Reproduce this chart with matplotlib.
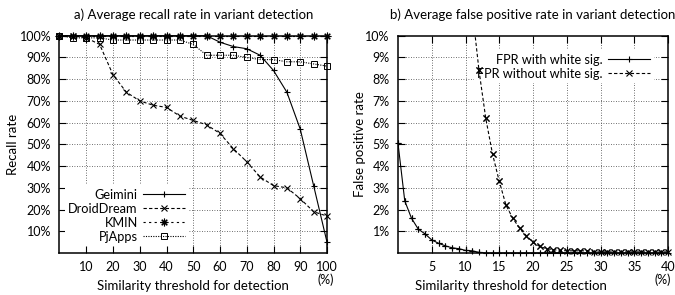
import matplotlib
matplotlib.use("Agg")
import matplotlib.pyplot as plt

##############
###  Data  ###
##############

# a) recall rate (%) per similarity threshold (%)
threshold_a = [0, 5, 10, 15, 20, 25, 30, 35, 40, 45, 50,
               55, 60, 65, 70, 75, 80, 85, 90, 95, 100]
geimini = [100, 100, 100, 100, 100, 100, 100, 100, 100, 100, 100,
           100, 97, 95, 94, 91, 84, 74, 57, 31, 5]
droiddream = [100, 100, 99, 96, 82, 74, 70, 68, 67, 63, 61,
              59, 55, 48, 42, 35, 31, 30, 25, 19, 17]
kmin = [100, 100, 100, 100, 100, 100, 100, 100, 100, 100, 100,
        100, 100, 100, 100, 100, 100, 100, 100, 100, 100]
pjapps = [100, 99, 99, 99, 98, 98, 98, 98, 98, 98, 96,
          91, 91, 91, 90, 89, 89, 88, 88, 87, 86]

# b) false positive rate (%) per similarity threshold (%)
threshold_b = [0, 1, 2, 3, 4, 5, 6, 7, 8, 9, 10, 11, 12, 13, 14, 15, 16, 17, 18, 19, 20,
               21, 22, 23, 24, 25, 26, 27, 28, 29, 30, 31, 32, 33, 34, 35, 36, 37, 38, 39, 40]
fpr_white = [5.05, 2.4, 1.6, 1.1, 0.88, 0.6, 0.45, 0.33, 0.24, 0.2, 0.12, 0.1, 0.03, 0, 0, 0, 0, 0, 0, 0, 0,
             0, 0, 0, 0, 0, 0, 0, 0, 0, 0, 0, 0, 0, 0, 0, 0, 0, 0, 0, 0]
threshold_b2 = [11, 12, 13, 14, 15, 16, 17, 18, 19, 20, 21, 22, 23, 24, 25,
                26, 27, 28, 29, 30, 31, 32, 33, 34, 35, 36, 37, 38, 39, 40]
fpr_nowhite = [11.2, 8.4, 6.2, 4.56, 3.3, 2.2, 1.6, 1.15, 0.8, 0.5, 0.3, 0.2, 0.15, 0.12, 0.1,
               0.1, 0.1, 0.1, 0.05, 0.05, 0.05, 0.05, 0.05, 0.05, 0.05, 0.05, 0.05, 0.05, 0.05, 0.05]

xticks_a = [10, 20, 30, 40, 50, 60, 70, 80, 90, 100]
yticks_a = [10, 20, 30, 40, 50, 60, 70, 80, 90, 100]
xticks_b = [5, 10, 15, 20, 25, 30, 35, 40]
yticks_b = [1, 2, 3, 4, 5, 6, 7, 8, 9, 10]

###############
###  Style  ###
###############

plt.rcParams["font.family"] = ["Lato", "DejaVu Sans"]
plt.rcParams["font.size"] = 9
plt.rcParams["axes.linewidth"] = 1.1
plt.rcParams["lines.linewidth"] = 0.8

GRID = dict(color="0.25", linestyle=(0, (1, 2)), linewidth=0.6)
DASH = (0, (3, 2))
SHORTDASH = (0, (2, 3))
DOT = (0, (1, 1.2))
AST = (8, 2, 0)
LEGEND = dict(markerfirst=False, frameon=True, fancybox=False, edgecolor="none",
              facecolor="white", framealpha=1, handlelength=3.3, handletextpad=0.4,
              labelspacing=0.15, borderpad=0.3, borderaxespad=0, numpoints=1, fontsize=9.2)


def style_axes(ax, xticks, yticks, xmax, ymax):
    ax.set_xlim(0, xmax)
    ax.set_ylim(0, ymax)
    ax.set_xticks(xticks)
    ax.set_yticks(yticks)
    ax.set_yticklabels(["%d%%" % v for v in yticks])
    ax.tick_params(direction="in", length=5, width=0.8, top=True, right=True, pad=6)
    for v in xticks[:-1]:
        ax.axvline(v, zorder=0, **GRID)
    for v in yticks[:-1]:
        ax.axhline(v, zorder=0, **GRID)


fig = plt.figure(figsize=(6.75, 2.95), dpi=100)
ax1 = fig.add_axes([59.5 / 675, 42 / 295, 267.5 / 675, 217.3 / 295])
ax2 = fig.add_axes([398 / 675, 42 / 295, 270 / 675, 217.3 / 295])

#########################
###  a) recall rate  ###
#########################

style_axes(ax1, xticks_a, yticks_a, 100, 100)
ax1.plot(threshold_a, geimini, color="k", linestyle="-", marker="+", ms=5, mew=0.8,
         label="Geimini", clip_on=False, zorder=3)
ax1.plot(threshold_a, droiddream, color="k", linestyle=DASH, marker="x", ms=4.5, mew=0.8,
         label="DroidDream", clip_on=False, zorder=3)
ax1.plot(threshold_a, kmin, color="k", linestyle=SHORTDASH, marker=AST, ms=5.5, mew=0.8,
         label="KMIN", clip_on=False, zorder=3)
ax1.plot(threshold_a, pjapps, color="k", linestyle=DOT, marker="s", ms=4.5, mew=0.7,
         mfc="none", label="PjApps", clip_on=False, zorder=3)

leg1 = ax1.legend(loc="upper right", bbox_to_anchor=(0.484, 0.313), **LEGEND)
leg1.set_zorder(2)

ax1.set_title("a) Average recall rate in variant detection", fontsize=9.5, pad=12)
ax1.set_xlabel("Similarity threshold for detection", fontsize=9.5)
ax1.xaxis.set_label_coords(0.5, -0.122)
ax1.set_ylabel("Recall rate", fontsize=9.5)
ax1.yaxis.set_label_coords(-0.15, 0.5)
ax1.text(0.994, -0.125, "(%)", transform=ax1.transAxes, ha="center", va="center", fontsize=9)

#################################
###  b) false positive rate  ###
#################################

style_axes(ax2, xticks_b, yticks_b, 40, 10)
ax2.plot(threshold_b, fpr_white, color="k", linestyle="-", marker="+", ms=5, mew=0.8,
         label="FPR with white sig.", zorder=3)
ax2.plot(threshold_b2, fpr_nowhite, color="k", linestyle=DASH, marker="x", ms=4.5, mew=0.8,
         label="FPR without white sig.", zorder=3)
# markers on the frame are drawn whole, as gnuplot does
ax2.plot(threshold_b, fpr_white, color="k", linestyle="none", marker="+", ms=5, mew=0.8,
         clip_on=False, zorder=3)
vis_x = [x for x, y in zip(threshold_b2, fpr_nowhite) if y <= 10]
vis_y = [y for y in fpr_nowhite if y <= 10]
ax2.plot(vis_x, vis_y, color="k", linestyle="none", marker="x", ms=4.5, mew=0.8,
         clip_on=False, zorder=3)

leg2 = ax2.legend(loc="upper right", bbox_to_anchor=(0.948, 0.935), **LEGEND)
leg2.set_zorder(2)

ax2.set_title("b) Average false positive rate in variant detection", fontsize=9.5, pad=12)
ax2.set_xlabel("Similarity threshold for detection", fontsize=9.5)
ax2.xaxis.set_label_coords(0.42, -0.122)
ax2.set_ylabel("False positive rate", fontsize=9.5)
ax2.yaxis.set_label_coords(-0.12, 0.5)
ax2.text(0.98, -0.125, "(%)", transform=ax2.transAxes, ha="center", va="center", fontsize=9)

fig.savefig("out.png", dpi=100)
